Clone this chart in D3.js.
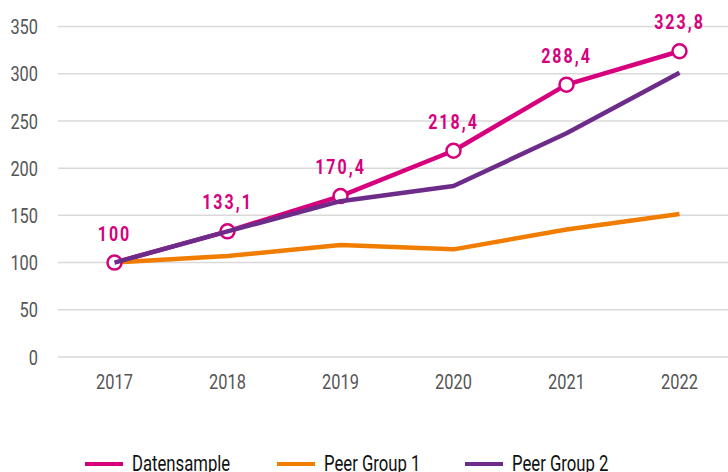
<!DOCTYPE html>
<html><head><meta charset="utf-8">
<script src="https://cdn.jsdelivr.net/npm/d3@7"></script>
<style>
body{margin:0;background:#fff;}
text{font-family:Roboto,"DejaVu Sans Condensed",sans-serif;}
</style></head>
<body><svg id="c" width="728" height="472"></svg>
<script>
const years = ["2017","2018","2019","2020","2021","2022"];
const datensample = [100, 133.1, 170.4, 218.4, 288.4, 323.8];
const peerGroup1 = [100, 107, 118.5, 114, 135, 151.5];
const peerGroup2 = [100, 133, 165, 181, 237, 301];
const yTicks = [0, 50, 100, 150, 200, 250, 300, 350];
const seriesNames = ["Datensample", "Peer Group 1", "Peer Group 2"];
const colors = ["#d6007e", "#f07d00", "#6e2c8a"];

const svg = d3.select("#c");
const x = d3.scaleBand().domain(years).range([58, 736]);
const y = d3.scaleLinear().domain([0, 350]).range([357, 26.5]);
const cx = d => x(d) + x.bandwidth()/2;
const SX = 0.82; // condensed look

// grid
svg.append("g").selectAll("line").data(yTicks).join("line")
  .attr("x1", 58).attr("x2", 728)
  .attr("y1", d => y(d)).attr("y2", d => y(d))
  .attr("stroke", "#d9d9d9").attr("stroke-width", 1.5);

// y axis labels
const yAxis = svg.append("g").attr("transform", "translate(38,0)")
  .call(d3.axisLeft(y).tickValues(yTicks).tickSize(0).tickPadding(0));
yAxis.select(".domain").remove();
yAxis.selectAll(".tick text").attr("x", 0).attr("dy", "0.36em").attr("font-size", 20).attr("fill", "#555")
  .attr("transform", `scale(${SX},1)`)
  .style("font-family", 'Roboto,sans-serif');

// x axis labels
const xAxis = svg.append("g").attr("transform", "translate(0,389)")
  .call(d3.axisBottom(x).tickSize(0).tickPadding(0));
xAxis.select(".domain").remove();
xAxis.selectAll(".tick text").attr("y", 0).attr("dy", 0).attr("font-size", 20).attr("fill", "#555")
  .attr("transform", `scale(${SX},1)`)
  .style("font-family", 'Roboto,sans-serif');

const line = d3.line().x((d,i) => cx(years[i])).y(d => y(d));
function drawLine(data, i) {
  svg.append("path").datum(data).attr("d", line)
    .attr("fill", "none").attr("stroke", colors[i]).attr("stroke-width", 4.5)
    .attr("stroke-linejoin", "round");
}
drawLine(datensample, 0);
drawLine(peerGroup1, 1);

// circles
svg.append("g").selectAll("circle").data(datensample).join("circle")
  .attr("cx", (d,i) => cx(years[i])).attr("cy", d => y(d)).attr("r", 7)
  .attr("fill", "#fff").attr("stroke", colors[0]).attr("stroke-width", 2.5);

drawLine(peerGroup2, 2);

// labels
const fmt = d => String(d).replace(".", ",");
svg.append("g").selectAll("text").data(datensample).join("text")
  .attr("transform", (d,i) => `translate(${cx(years[i])},${y(d) - 22}) scale(0.8,1)`)
  .attr("text-anchor", "middle").attr("font-size", 20).attr("font-weight", "bold")
  .attr("letter-spacing", 2.5).attr("fill", colors[0])
  .text(fmt);

// legend
const legendX = [85, 277, 465];
seriesNames.forEach((n, i) => {
  const g = svg.append("g").attr("transform", `translate(${legendX[i]},464)`);
  g.append("line").attr("x1", 0).attr("x2", 38).attr("stroke", colors[i]).attr("stroke-width", 4);
  g.append("text").attr("transform", "translate(47,7) scale(0.76,1)")
    .attr("font-size", 22).attr("fill", "#111").text(n);
});
</script></body></html>
